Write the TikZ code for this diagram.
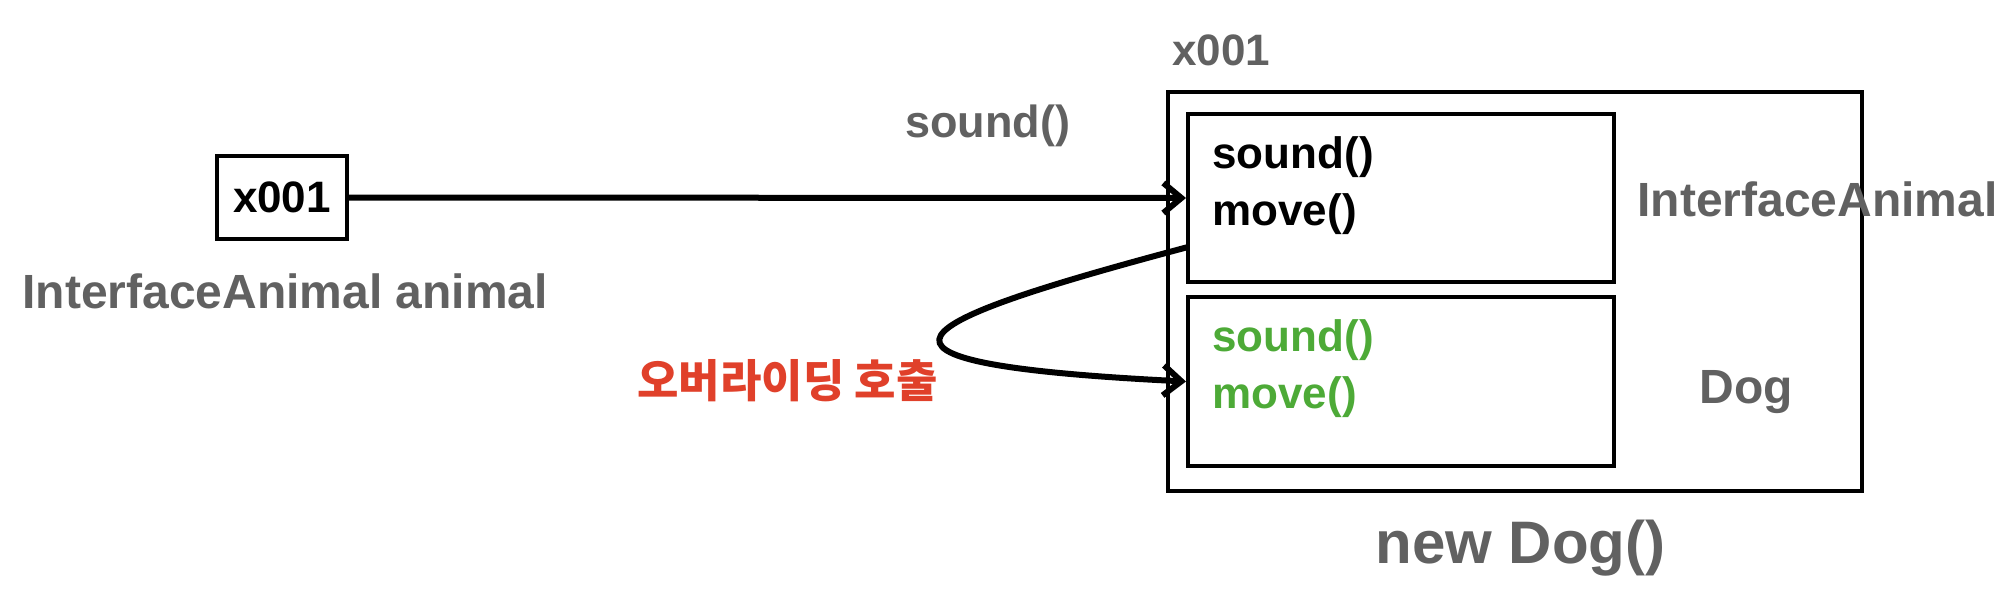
\documentclass[tikz,border=0pt]{standalone}
\usepackage{fontspec}
\setmainfont{Liberation Sans}
\newfontfamily\krfont{Noto Sans CJK KR}
\usetikzlibrary{arrows.meta}
\definecolor{txtgray}{HTML}{616161}
\definecolor{okgreen}{HTML}{4DAA37}
\definecolor{callred}{HTML}{E0402A}
\tikzset{
  box/.style={draw=black, line width=2pt, inner sep=0pt, rectangle},
  lbl/.style={inner sep=0pt, anchor=base west, font=\bfseries\fontsize{#1}{#1}\selectfont},
  lbl/.default=22pt,
  arr/.style={line width=3pt, -{Straight Barb[length=9pt,width=15pt]}},
}
\begin{document}
\begin{tikzpicture}[x=0.5pt,y=-0.5pt]
\useasboundingbox (0,0) rectangle (2016,600);
% left reference box
\node[box, minimum width=65pt, minimum height=41.5pt, font=\bfseries\fontsize{22pt}{22pt}\selectfont] (ref) at (282,197.5) {x001};
\node[lbl=24pt, text=txtgray] (refname) at (22,308) {InterfaceAnimal animal};
% object boxes
\node[box, minimum width=347pt, minimum height=199.5pt] (obj) at (1515,291.5) {};
\node[box, minimum width=213pt, minimum height=84pt] (ia) at (1401,198) {};
\node[box, minimum width=213pt, minimum height=84.5pt] (dog) at (1401,381.5) {};
% labels
\node[lbl=22pt, text=txtgray] (addr) at (1172,65) {x001};
\node[lbl=22.5pt, text=txtgray] (call) at (905,137) {sound()};
\node[lbl=22pt] (ias) at (1212,168) {sound()};
\node[lbl=22pt] (iam) at (1212,225) {move()};
\node[lbl=22pt, text=okgreen] (dogs) at (1212,351) {sound()};
\node[lbl=22pt, text=okgreen] (dogm) at (1212,408) {move()};
\node[lbl=24pt, text=txtgray] (ianame) at (1637,216) {InterfaceAnimal};
\node[lbl=24pt, text=txtgray, anchor=base] (dogname) at (1746,403) {Dog};
\node[lbl=30pt, text=txtgray] (newdog) at (1375,563) {new Dog()};
\node[inner sep=0pt, anchor=base west, text=callred, font=\krfont\bfseries\fontsize{22.5pt}{22.5pt}\selectfont] (override) at (637,397) {오버라이딩 호출};
% connectors
\draw[arr] (ref.east) -- (ia.west);
\coordinate (cstart) at (1188,247);
\draw[arr] (cstart) .. controls (907,322) and (813,363) .. (dog.west);
\end{tikzpicture}
\end{document}
